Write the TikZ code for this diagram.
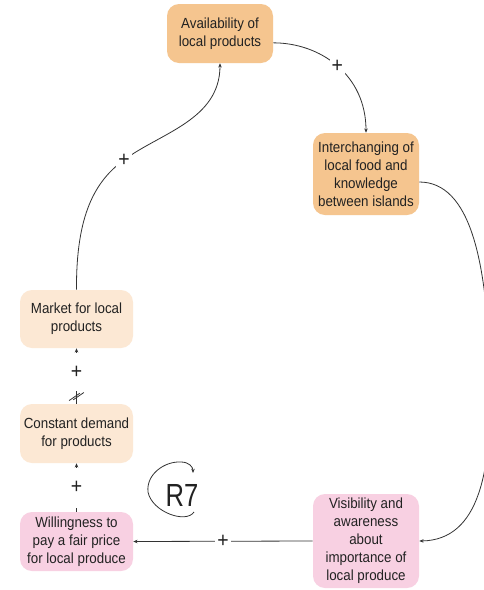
\documentclass[tikz,border=0pt]{standalone}
\usepackage{fontspec}
\setmainfont{Liberation Sans}[FakeStretch=0.91]
\newfontfamily\loopfont{Liberation Sans}[FakeStretch=0.8]
\usetikzlibrary{arrows.meta}
\definecolor{boxorange}{RGB}{245,197,143}
\definecolor{boxpeach}{RGB}{252,232,212}
\definecolor{boxpink}{RGB}{248,208,226}
\definecolor{ink}{RGB}{34,34,34}
\definecolor{wire}{RGB}{51,51,51}
\begin{document}
\begin{tikzpicture}[x=0.75pt,y=-0.75pt,
  factor/.style={rounded corners=9pt, align=center, text=ink,
    font=\fontsize{11}{13.5}\selectfont, inner sep=0pt},
  link/.style={draw=wire, line width=0.6pt, -{Stealth[length=3.2pt,width=2.6pt]}},
  sign/.style={fill=white, text=ink, font=\fontsize{16}{16}\selectfont, inner sep=1.5pt}
]
\useasboundingbox[fill=white] (0,0) rectangle (483,590);

% variables of the loop
\node[factor, fill=boxorange, minimum width=79.5pt, minimum height=44.25pt] (A) at (220,33.5)
  {Availability of\\local products};
\node[factor, fill=boxorange, minimum width=79.5pt, minimum height=61.5pt] (B) at (366,174)
  {Interchanging of\\local food and\\knowledge\\between islands};
\node[factor, fill=boxpeach, minimum width=84.75pt, minimum height=43.5pt] (C) at (76.5,319)
  {Market for local\\products};
\node[factor, fill=boxpeach, minimum width=84.75pt, minimum height=44.25pt] (D) at (76.5,433.5)
  {Constant demand\\for products};
\node[factor, fill=boxpink, minimum width=84.75pt, minimum height=44.25pt] (E) at (76.5,541.5)
  {Willingness to\\pay a fair price\\for local produce};
\node[factor, fill=boxpink, minimum width=79.5pt, minimum height=70.5pt] (F) at (366,541)
  {Visibility and\\awareness\\about\\importance of\\local produce};

% causal links
\draw[link] ([yshift=-7pt]A.east) .. controls +(47,0) and +(0,-58) .. (B.north)
  node[sign, pos=0.5] {+};
\draw[link] ([yshift=-6pt]B.east) .. controls (470,182) and (488,260) .. (490,380)
  .. controls (492,470) and (480,540) .. (F.east);
\draw[link] (F.west) -- (E.east) node[sign, midway] {+};
\draw[link] (E.north) -- (D.south) node[sign, midway, minimum height=30pt] {+};
\draw[link] (D.north) -- (C.south) node[sign, pos=0.571, minimum height=28.5pt] {+}
  coordinate[pos=0.13] (delay);
\draw[link] (C.north) .. controls (76,215) and (95,181) .. (124,160) coordinate (ca)
  .. controls (160,133) and (220,120) .. (A.south);
\node[sign] at (ca) {+};

% delay mark
\draw[wire, line width=0.6pt] ([shift={(-5.5pt,-3pt)}]delay) -- ([shift={(2.5pt,2.5pt)}]delay);
\draw[wire, line width=0.6pt] ([shift={(-2.5pt,-2.5pt)}]delay) -- ([shift={(5.5pt,3pt)}]delay);

% loop identifier
\node[text=ink, font=\loopfont\fontsize{24}{24}\selectfont, inner sep=0pt] (R) at (182,495) {R7};
\draw[link] (194,512) .. controls (186,524) and (152,512) .. (148,492)
  .. controls (146,474) and (165,461) .. (181,462)
  .. controls (189,462) and (193,467) .. (193,473);
\end{tikzpicture}
\end{document}
